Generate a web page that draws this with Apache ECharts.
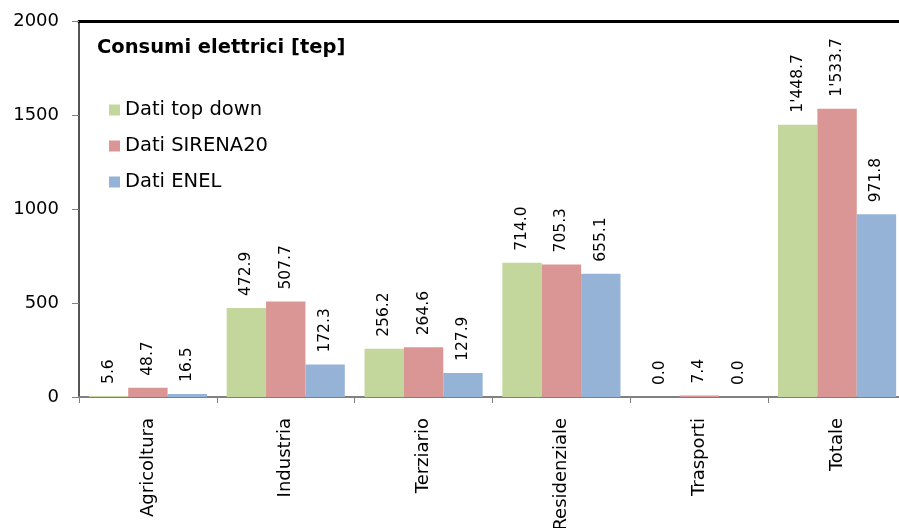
<!DOCTYPE html>
<html>
<head>
<meta charset="utf-8">
<script src="https://cdn.jsdelivr.net/npm/echarts@6/dist/echarts.min.js"></script>
<style>
html,body{margin:0;padding:0;background:#fff;}
#chart{width:899px;height:528px;}
</style>
</head>
<body>
<div id="chart"></div>
<script>
const categories = ['Agricoltura', 'Industria', 'Terziario', 'Residenziale', 'Trasporti', 'Totale'];
const seriesNames = ['Dati top down', 'Dati SIRENA20', 'Dati ENEL'];
const topDown = [5.6, 472.9, 256.2, 714.0, 0.0, 1448.7];
const sirena = [48.7, 507.7, 264.6, 705.3, 7.4, 1533.7];
const enel = [16.5, 172.3, 127.9, 655.1, 0.0, 971.8];
const yTicks = [0, 500, 1000, 1500, 2000];
const titleText = 'Consumi elettrici [tep]';

const colors = ['#C3D69B', '#D99694', '#95B3D7'];
const FONT = 'DejaVu Sans';

function fmt(v) {
  const s = v.toFixed(1);
  const parts = s.split('.');
  parts[0] = parts[0].replace(/\B(?=(\d{3})+(?!\d))/g, "'");
  return parts.join('.');
}

const chart = echarts.init(document.getElementById('chart'), null, {renderer: 'canvas'});

function makeSeries(name, data, color) {
  return {
    name: name,
    type: 'bar',
    data: data,
    barGap: '0%',
    barCategoryGap: '14.3%',
    itemStyle: {color: color},
    label: {
      show: true,
      position: 'top',
      rotate: 90,
      align: 'left',
      verticalAlign: 'middle',
      distance: 12,
      color: '#000',
      fontFamily: FONT,
      fontSize: 15.5,
      formatter: p => fmt(p.value)
    },
    emphasis: {disabled: true},
    animation: false
  };
}

chart.setOption({
  animation: false,
  title: {
    text: titleText,
    left: 92,
    top: 33,
    textStyle: {fontFamily: FONT, fontWeight: 'bold', fontSize: 19.5, color: '#000'}
  },
  legend: {
    orient: 'vertical',
    left: 104,
    top: 95,
    itemWidth: 11,
    itemHeight: 11,
    itemGap: 16,
    icon: 'rect',
    data: seriesNames,
    textStyle: {fontFamily: FONT, fontSize: 19.5, color: '#000'}
  },
  grid: {left: 79, top: 21, width: 827, height: 376, containLabel: false, outerBoundsMode: 'none'},
  xAxis: [{
    type: 'category',
    data: categories,
    position: 'bottom',
    axisLine: {lineStyle: {color: '#808080', width: 2}},
    axisTick: {show: true, length: 6, lineStyle: {color: '#808080', width: 1}},
    axisLabel: {rotate: 90, margin: 21, fontFamily: FONT, fontSize: 18, color: '#000', interval: 0}
  }, {
    type: 'category',
    data: categories,
    position: 'top',
    axisLine: {lineStyle: {color: '#000', width: 3}},
    axisTick: {show: false},
    axisLabel: {show: false}
  }],
  yAxis: {
    type: 'value',
    min: yTicks[0],
    max: yTicks[yTicks.length - 1],
    interval: 500,
    axisLine: {show: true, lineStyle: {color: '#555', width: 2}},
    axisTick: {show: true, inside: false, length: 7, lineStyle: {color: '#808080', width: 1}},
    splitLine: {show: false},
    axisLabel: {margin: 20, fontFamily: FONT, fontSize: 18, color: '#000', formatter: v => String(v)}
  },
  series: [
    makeSeries(seriesNames[0], topDown, colors[0]),
    makeSeries(seriesNames[1], sirena, colors[1]),
    makeSeries(seriesNames[2], enel, colors[2])
  ]
});
</script>
</body>
</html>
